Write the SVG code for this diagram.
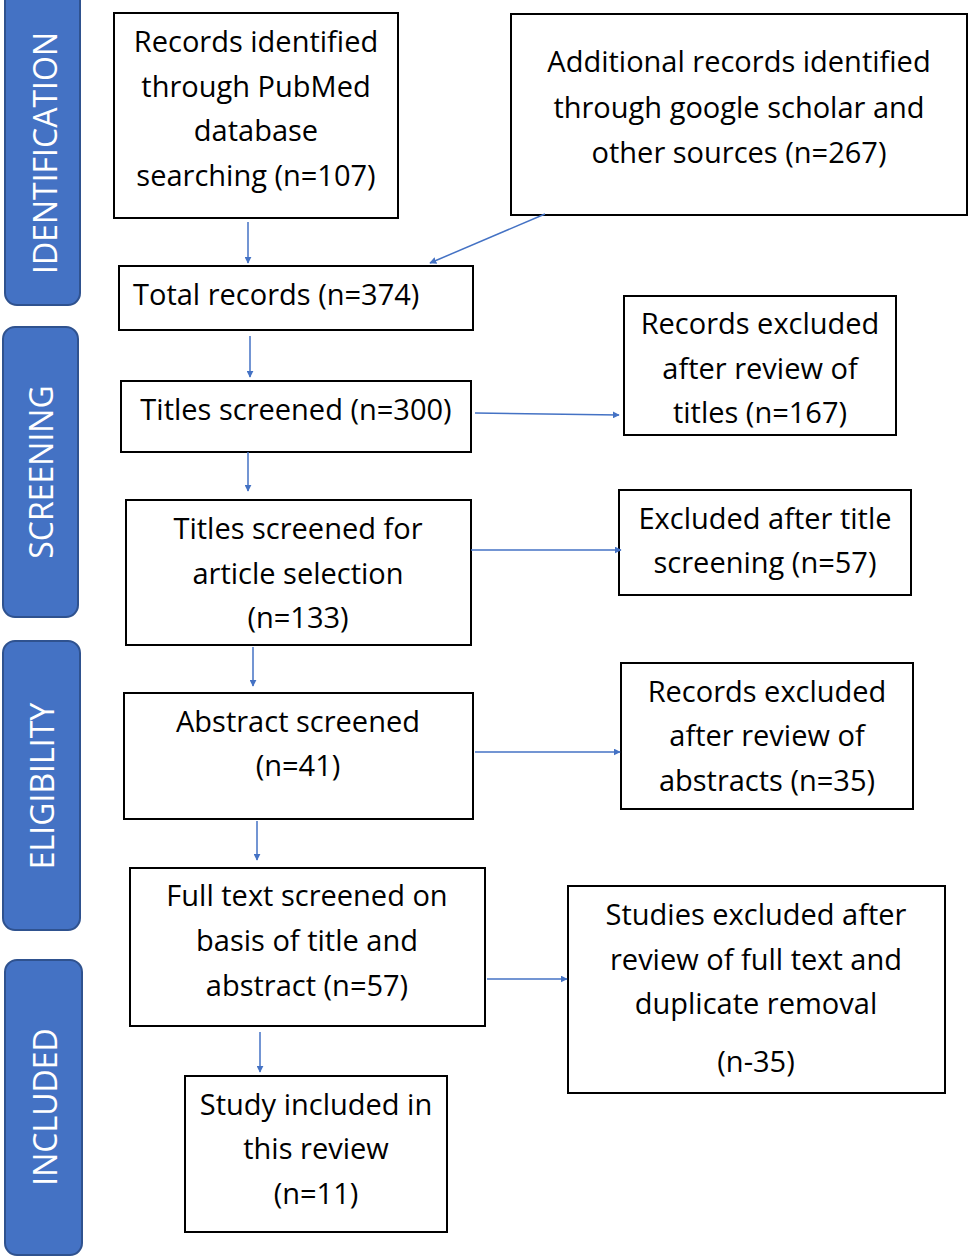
<svg xmlns="http://www.w3.org/2000/svg" width="969" height="1258" viewBox="0 0 969 1258">
<style>
.band{fill:#4472C4;stroke:#2F528F;stroke-width:2}
.bt{fill:#fff;font-family:"Open Sans","Liberation Sans",sans-serif;font-size:32px;text-anchor:middle}
.box{fill:#fff;stroke:#000;stroke-width:2}
.t{font-family:"Open Sans","Liberation Sans",sans-serif;font-size:29px;text-anchor:middle;fill:#000}
.c{stroke:#4472C4;stroke-width:1.5;fill:none;marker-end:url(#a)}
</style>
<defs><marker id="a" viewBox="0 0 10 10" refX="9" refY="5" markerWidth="7" markerHeight="7" markerUnits="userSpaceOnUse" orient="auto"><path d="M0,0L10,5L0,10z" fill="#4472C4"/></marker></defs>
<rect width="969" height="1258" fill="#fff"/>
<g id="bands">
<rect class="band" x="5" y="-12" width="75" height="317" rx="12"/>
<text class="bt" transform="translate(57,153) rotate(-90)">IDENTIFICATION</text>
<rect class="band" x="3" y="327" width="75" height="290" rx="12"/>
<text class="bt" transform="translate(53,472) rotate(-90)">SCREENING</text>
<rect class="band" x="3" y="641" width="77" height="289" rx="12"/>
<text class="bt" transform="translate(54,786) rotate(-90)">ELIGIBILITY</text>
<rect class="band" x="5" y="960" width="77" height="295" rx="12"/>
<text class="bt" transform="translate(57,1107) rotate(-90)">INCLUDED</text>
</g>
<g id="n1"><rect class="box" x="114" y="13" width="284" height="205"/><text class="t"><tspan x="256" y="52">Records identified</tspan><tspan x="256" y="97">through PubMed</tspan><tspan x="256" y="141">database</tspan><tspan x="256" y="186">searching (n=107)</tspan></text></g>
<g id="n2"><rect class="box" x="511" y="14" width="456" height="201"/><text class="t"><tspan x="739" y="72">Additional records identified</tspan><tspan x="739" y="118">through google scholar and</tspan><tspan x="739" y="163">other sources (n=267)</tspan></text></g>
<g id="n3"><rect class="box" x="119" y="266" width="354" height="64"/><text class="t" x="133" y="305" style="text-anchor:start">Total records (n=374)</text></g>
<g id="n4"><rect class="box" x="624" y="296" width="272" height="139"/><text class="t"><tspan x="760" y="334">Records excluded</tspan><tspan x="760" y="379">after review of</tspan><tspan x="760" y="423">titles (n=167)</tspan></text></g>
<g id="n5"><rect class="box" x="121" y="381" width="350" height="71"/><text class="t" x="296" y="420">Titles screened (n=300)</text></g>
<g id="n6"><rect class="box" x="126" y="500" width="345" height="145"/><text class="t"><tspan x="298" y="539">Titles screened for</tspan><tspan x="298" y="584">article selection</tspan><tspan x="298" y="628">(n=133)</tspan></text></g>
<g id="n7"><rect class="box" x="619" y="490" width="292" height="105"/><text class="t"><tspan x="765" y="529">Excluded after title</tspan><tspan x="765" y="573">screening (n=57)</tspan></text></g>
<g id="n8"><rect class="box" x="124" y="693" width="349" height="126"/><text class="t"><tspan x="298" y="732">Abstract screened</tspan><tspan x="298" y="776">(n=41)</tspan></text></g>
<g id="n9"><rect class="box" x="621" y="663" width="292" height="146"/><text class="t"><tspan x="767" y="702">Records excluded</tspan><tspan x="767" y="746">after review of</tspan><tspan x="767" y="791">abstracts (n=35)</tspan></text></g>
<g id="n10"><rect class="box" x="130" y="868" width="355" height="158"/><text class="t"><tspan x="307" y="906">Full text screened on</tspan><tspan x="307" y="951">basis of title and</tspan><tspan x="307" y="996">abstract (n=57)</tspan></text></g>
<g id="n11"><rect class="box" x="568" y="886" width="377" height="207"/><text class="t"><tspan x="756" y="925">Studies excluded after</tspan><tspan x="756" y="970">review of full text and</tspan><tspan x="756" y="1014">duplicate removal</tspan><tspan x="756" y="1072">(n-35)</tspan></text></g>
<g id="n12"><rect class="box" x="185" y="1076" width="262" height="156"/><text class="t"><tspan x="316" y="1115">Study included in</tspan><tspan x="316" y="1159">this review</tspan><tspan x="316" y="1204">(n=11)</tspan></text></g>
<g id="connectors">
<line class="c" x1="248" y1="222" x2="248" y2="263"/>
<line class="c" x1="545" y1="214" x2="430" y2="263"/>
<line class="c" x1="250" y1="336" x2="250" y2="377"/>
<line class="c" x1="475" y1="413" x2="619" y2="415"/>
<line class="c" x1="248" y1="452" x2="248" y2="491"/>
<line class="c" x1="471" y1="550" x2="621" y2="550"/>
<line class="c" x1="253" y1="647" x2="253" y2="686"/>
<line class="c" x1="475" y1="752" x2="620" y2="752"/>
<line class="c" x1="257" y1="821" x2="257" y2="860"/>
<line class="c" x1="487" y1="979" x2="567" y2="979"/>
<line class="c" x1="260" y1="1032" x2="260" y2="1072"/>
</g>
</svg>
